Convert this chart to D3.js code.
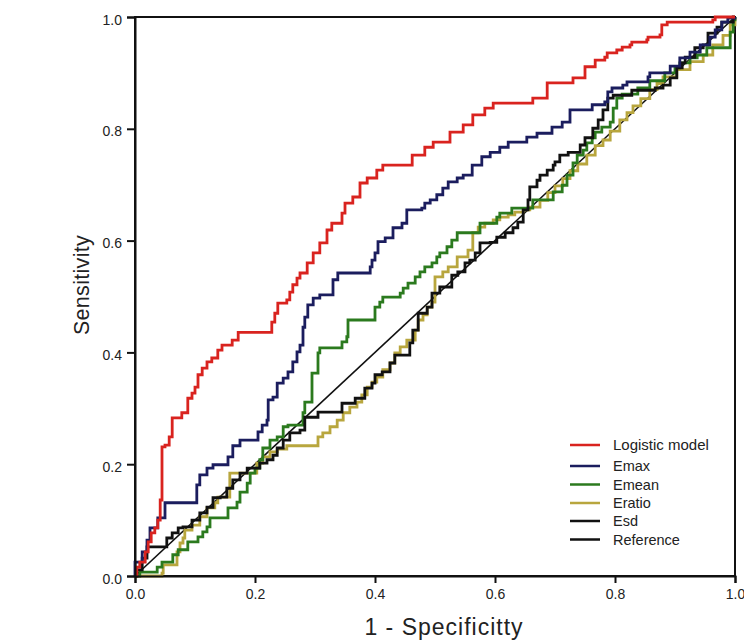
<!DOCTYPE html>
<html><head><meta charset="utf-8">
<script src="https://cdn.jsdelivr.net/npm/d3@7"></script>
<style>
html,body{margin:0;padding:0;background:#fff;}
svg{display:block;font-family:"Liberation Sans",Arial,sans-serif;}
</style></head>
<body><svg id="c" width="744" height="641"></svg>
<script>
const ticks = [0, 0.2, 0.4, 0.6, 0.8, 1.0];
const seriesNames = ["Logistic model","Emax","Emean","Eratio","Esd","Reference"];
const seriesColors = ["#d9231f","#1b1d5e","#2b7a1e","#b8a63e","#111111","#111111"];

const logistic = [[0,0],[0.003,0.016],[0.008,0.025],[0.017,0.043],[0.022,0.061],[0.027,0.077],[0.033,0.086],[0.038,0.100],[0.042,0.136],[0.045,0.231],[0.050,0.234],[0.057,0.249],[0.062,0.283],[0.078,0.292],[0.088,0.318],[0.095,0.327],[0.100,0.338],[0.105,0.360],[0.112,0.372],[0.120,0.383],[0.128,0.390],[0.138,0.404],[0.145,0.413],[0.162,0.422],[0.172,0.436],[0.228,0.454],[0.233,0.470],[0.238,0.488],[0.253,0.494],[0.258,0.508],[0.263,0.521],[0.270,0.533],[0.275,0.542],[0.287,0.560],[0.297,0.578],[0.308,0.596],[0.320,0.619],[0.328,0.631],[0.345,0.649],[0.350,0.667],[0.363,0.678],[0.375,0.703],[0.387,0.712],[0.403,0.726],[0.413,0.735],[0.462,0.753],[0.483,0.767],[0.497,0.776],[0.525,0.794],[0.547,0.807],[0.563,0.825],[0.583,0.837],[0.597,0.846],[0.663,0.855],[0.687,0.882],[0.730,0.891],[0.750,0.911],[0.767,0.923],[0.783,0.928],[0.787,0.936],[0.803,0.941],[0.812,0.946],[0.825,0.950],[0.828,0.955],[0.853,0.959],[0.855,0.964],[0.875,0.968],[0.878,0.986],[0.887,0.991],[0.963,0.995],[0.967,1.000],[1,1]];

const emax = [[0,0],[0,0.025],[0.012,0.043],[0.020,0.064],[0.025,0.086],[0.038,0.104],[0.050,0.131],[0.103,0.163],[0.108,0.181],[0.120,0.193],[0.130,0.199],[0.155,0.213],[0.163,0.233],[0.175,0.243],[0.205,0.258],[0.212,0.270],[0.220,0.279],[0.222,0.315],[0.230,0.320],[0.237,0.345],[0.247,0.354],[0.255,0.365],[0.263,0.383],[0.270,0.401],[0.275,0.413],[0.280,0.445],[0.283,0.463],[0.288,0.485],[0.297,0.497],[0.308,0.503],[0.330,0.530],[0.338,0.542],[0.392,0.553],[0.395,0.565],[0.400,0.578],[0.405,0.598],[0.417,0.605],[0.430,0.623],[0.445,0.631],[0.453,0.655],[0.478,0.658],[0.483,0.667],[0.492,0.673],[0.503,0.682],[0.513,0.694],[0.522,0.705],[0.537,0.712],[0.547,0.717],[0.562,0.735],[0.578,0.750],[0.592,0.758],[0.608,0.767],[0.622,0.776],[0.653,0.785],[0.670,0.792],[0.695,0.803],[0.712,0.812],[0.725,0.834],[0.762,0.843],[0.783,0.848],[0.788,0.866],[0.795,0.873],[0.813,0.878],[0.820,0.884],[0.855,0.893],[0.858,0.900],[0.892,0.912],[0.908,0.927],[0.925,0.937],[0.942,0.950],[0.958,0.964],[0.967,0.977],[0.978,0.991],[0.988,0.998],[1,1]];

const emean = [[0,0],[0.008,0.007],[0.037,0.016],[0.045,0.025],[0.063,0.038],[0.072,0.047],[0.088,0.061],[0.105,0.070],[0.113,0.079],[0.120,0.088],[0.125,0.104],[0.155,0.122],[0.170,0.132],[0.175,0.150],[0.187,0.166],[0.192,0.184],[0.200,0.193],[0.208,0.208],[0.213,0.229],[0.225,0.243],[0.237,0.249],[0.247,0.267],[0.255,0.270],[0.280,0.292],[0.283,0.311],[0.295,0.363],[0.305,0.399],[0.308,0.408],[0.345,0.419],[0.353,0.428],[0.355,0.458],[0.400,0.481],[0.408,0.490],[0.413,0.499],[0.442,0.506],[0.447,0.515],[0.455,0.524],[0.467,0.535],[0.475,0.544],[0.483,0.553],[0.495,0.560],[0.503,0.571],[0.508,0.578],[0.520,0.589],[0.528,0.601],[0.537,0.614],[0.575,0.631],[0.603,0.642],[0.608,0.649],[0.628,0.658],[0.663,0.673],[0.697,0.687],[0.712,0.699],[0.720,0.717],[0.730,0.739],[0.737,0.753],[0.747,0.762],[0.753,0.775],[0.762,0.784],[0.767,0.794],[0.778,0.803],[0.792,0.812],[0.797,0.837],[0.803,0.855],[0.812,0.862],[0.838,0.873],[0.858,0.886],[0.883,0.900],[0.900,0.909],[0.908,0.918],[0.925,0.927],[0.937,0.932],[0.953,0.945],[0.992,0.973],[0.997,0.995],[1,1]];

const eratio = [[0,0],[0.045,0.005],[0.047,0.020],[0.070,0.043],[0.075,0.059],[0.080,0.068],[0.083,0.082],[0.095,0.091],[0.108,0.106],[0.120,0.122],[0.133,0.131],[0.138,0.141],[0.158,0.184],[0.203,0.202],[0.213,0.213],[0.225,0.222],[0.237,0.227],[0.253,0.233],[0.305,0.249],[0.313,0.256],[0.325,0.267],[0.337,0.279],[0.347,0.292],[0.358,0.302],[0.370,0.311],[0.378,0.324],[0.387,0.338],[0.395,0.347],[0.403,0.356],[0.413,0.369],[0.425,0.381],[0.433,0.399],[0.442,0.410],[0.453,0.422],[0.467,0.440],[0.472,0.458],[0.480,0.467],[0.487,0.481],[0.495,0.490],[0.500,0.535],[0.513,0.544],[0.522,0.553],[0.537,0.571],[0.555,0.583],[0.563,0.614],[0.572,0.624],[0.583,0.631],[0.597,0.637],[0.608,0.642],[0.622,0.646],[0.633,0.651],[0.647,0.655],[0.658,0.660],[0.675,0.672],[0.688,0.686],[0.700,0.698],[0.713,0.711],[0.725,0.725],[0.738,0.737],[0.753,0.753],[0.767,0.770],[0.780,0.780],[0.792,0.796],[0.808,0.816],[0.820,0.829],[0.830,0.841],[0.843,0.854],[0.858,0.870],[0.870,0.881],[0.880,0.893],[0.903,0.906],[0.925,0.920],[0.947,0.932],[0.963,0.950],[0.980,0.967],[0.992,0.986],[1,1]];

const esd = [[0,0],[0.003,0.011],[0.012,0.032],[0.020,0.052],[0.053,0.068],[0.062,0.077],[0.072,0.086],[0.080,0.088],[0.095,0.100],[0.108,0.113],[0.120,0.123],[0.130,0.140],[0.142,0.141],[0.153,0.157],[0.163,0.172],[0.175,0.184],[0.187,0.193],[0.208,0.202],[0.220,0.208],[0.230,0.216],[0.237,0.229],[0.247,0.243],[0.258,0.256],[0.275,0.261],[0.283,0.284],[0.305,0.293],[0.345,0.309],[0.367,0.318],[0.383,0.336],[0.395,0.345],[0.400,0.360],[0.412,0.365],[0.425,0.381],[0.433,0.395],[0.458,0.417],[0.463,0.440],[0.472,0.470],[0.487,0.481],[0.495,0.506],[0.508,0.517],[0.528,0.538],[0.538,0.544],[0.550,0.560],[0.558,0.565],[0.567,0.578],[0.575,0.596],[0.592,0.597],[0.603,0.606],[0.617,0.614],[0.630,0.623],[0.638,0.633],[0.647,0.655],[0.655,0.673],[0.658,0.696],[0.670,0.708],[0.675,0.717],[0.687,0.726],[0.697,0.735],[0.700,0.741],[0.708,0.753],[0.722,0.758],[0.742,0.771],[0.750,0.784],[0.763,0.801],[0.772,0.816],[0.780,0.834],[0.788,0.855],[0.797,0.860],[0.828,0.869],[0.867,0.873],[0.880,0.878],[0.892,0.891],[0.903,0.909],[0.912,0.918],[0.917,0.928],[0.933,0.945],[0.947,0.950],[0.955,0.971],[0.970,0.982],[0.978,0.991],[0.997,1.000],[1,1]];

const reference = [[0,0],[1,1]];

const svg = d3.select("#c");
const L = 135, R = 735, T = 17, B = 576;
const x = d3.scaleLinear().domain([0,1]).range([L,R]);
const y = d3.scaleLinear().domain([0,1]).range([B,T]);

const step = d3.line().x(d=>x(d[0])).y(d=>y(d[1])).curve(d3.curveStepAfter);
const straight = d3.line().x(d=>x(d[0])).y(d=>y(d[1]));

// frame
svg.append("rect").attr("x",L).attr("y",T).attr("width",R-L).attr("height",B-T)
  .attr("fill","none").attr("stroke","#111").attr("stroke-width",2);

const g = svg.append("g");
g.append("path").attr("d",straight(reference)).attr("fill","none").attr("stroke",seriesColors[5]).attr("stroke-width",1.6);
const order = [[eratio,3],[emean,2],[esd,4],[emax,1],[logistic,0]];
order.forEach(([d,i])=>{
  g.append("path").attr("d",step(d)).attr("fill","none")
   .attr("stroke",seriesColors[i]).attr("stroke-width",2.8).attr("stroke-linejoin","miter");
});

// axes
const fmt = d3.format(".1f");
const ax = svg.append("g").attr("transform",`translate(0,${B})`)
  .call(d3.axisBottom(x).tickValues(ticks).tickFormat(fmt).tickSize(7).tickPadding(6));
const ay = svg.append("g").attr("transform",`translate(${L},0)`)
  .call(d3.axisLeft(y).tickValues(ticks).tickFormat(fmt).tickSize(8).tickPadding(5));
[ax,ay].forEach(a=>{
  a.select(".domain").attr("stroke","#111").attr("stroke-width",2);
  a.selectAll(".tick line").attr("stroke","#111").attr("stroke-width",2);
  a.selectAll(".tick text").attr("fill","#222").style("font-size","14px").style("font-family","'Liberation Sans',Arial,sans-serif");
});
ay.selectAll(".tick text").attr("dy","0.5em");

svg.append("text").attr("x",444).attr("y",635).attr("text-anchor","middle")
  .attr("fill","#222").style("font-size","23px").style("letter-spacing","1px").text("1 - Specificitty");
svg.append("text").attr("transform","translate(89,285) rotate(-90)").attr("text-anchor","middle")
  .attr("fill","#222").style("font-size","21.5px").style("letter-spacing","0.3px").text("Sensitivity");

// legend
const ly = [445,466,484.5,503,521,539.5];
seriesNames.forEach((n,i)=>{
  svg.append("line").attr("x1",570).attr("x2",600).attr("y1",ly[i]).attr("y2",ly[i])
    .attr("stroke",seriesColors[i]).attr("stroke-width",2.5);
  svg.append("text").attr("x",613).attr("y",ly[i]).attr("dy","0.35em")
    .attr("fill","#222").style("font-size",i===0?"15px":"14.5px").text(n);
});
</script></body></html>
